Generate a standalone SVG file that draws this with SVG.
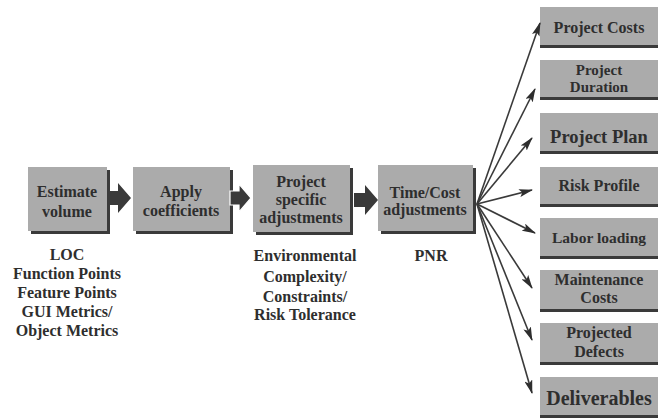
<svg xmlns="http://www.w3.org/2000/svg" width="660" height="420" viewBox="0 0 660 420">
<defs>
<style>
.box{fill:#ababab;}
.sh{fill:#3a3a3a;}
.t{font-family:"Liberation Serif","Times New Roman",serif;font-weight:bold;fill:#2e2e2e;text-anchor:middle;font-size:16px;}
.sm{font-size:15px;}
.md{font-size:15.5px;}
.big{font-size:18.5px;}
.xl{font-size:20px;}
.cap{font-family:"Liberation Serif","Times New Roman",serif;font-weight:bold;fill:#2e2e2e;text-anchor:middle;font-size:16px;}
.con{stroke:#3a3a3a;stroke-width:1.6;fill:none;marker-end:url(#ah);}
.blk{fill:#3a3a3a;}
</style>
<marker id="ah" viewBox="0 0 14 8" refX="13" refY="4" markerWidth="14" markerHeight="8" markerUnits="userSpaceOnUse" orient="auto">
<path d="M0,0 L14,4 L0,8 L3,4 Z" fill="#2e2e2e"/>
</marker>
</defs>
<rect width="660" height="420" fill="#ffffff"/>

<g id="estimate-volume">
<rect class="sh" x="31" y="170" width="79" height="64"/>
<rect class="box" x="28" y="167" width="79" height="64"/>
<text class="t" x="67" y="197">Estimate</text>
<text class="t" x="67" y="217">volume</text>
</g>
<g id="apply-coefficients">
<rect class="sh" x="136" y="170" width="97" height="64"/>
<rect class="box" x="133" y="167" width="97" height="64"/>
<text class="t" x="181" y="197">Apply</text>
<text class="t" x="181" y="216">coefficients</text>
</g>
<g id="project-specific-adjustments">
<rect class="sh" x="256" y="168" width="97" height="67"/>
<rect class="box" x="253" y="165" width="97" height="67"/>
<text class="t" x="301" y="187">Project</text>
<text class="t" x="301" y="205">specific</text>
<text class="t" x="301" y="223">adjustments</text>
</g>
<g id="time-cost-adjustments">
<rect class="sh" x="381" y="168" width="95" height="66"/>
<rect class="box" x="378" y="165" width="95" height="66"/>
<text class="t" x="425" y="198">Time/Cost</text>
<text class="t" x="425" y="215">adjustments</text>
</g>

<g id="project-costs">
<rect class="sh" x="540" y="45" width="118" height="3"/>
<rect class="box" x="540" y="7" width="118" height="38"/>
<text class="t" x="599" y="33">Project Costs</text>
</g>
<g id="project-duration">
<rect class="sh" x="540" y="97" width="118" height="3"/>
<rect class="box" x="540" y="60" width="118" height="37"/>
<text class="t sm" x="599" y="75">Project</text>
<text class="t sm" x="599" y="92">Duration</text>
</g>
<g id="project-plan">
<rect class="sh" x="540" y="151" width="118" height="3"/>
<rect class="box" x="540" y="113" width="118" height="38"/>
<text class="t big" x="599" y="143">Project Plan</text>
</g>
<g id="risk-profile">
<rect class="sh" x="540" y="204" width="118" height="3"/>
<rect class="box" x="540" y="167" width="118" height="37"/>
<text class="t" x="599" y="191">Risk Profile</text>
</g>
<g id="labor-loading">
<rect class="sh" x="540" y="256" width="118" height="3"/>
<rect class="box" x="540" y="218" width="118" height="38"/>
<text class="t md" x="599" y="243">Labor loading</text>
</g>
<g id="maintenance-costs">
<rect class="sh" x="540" y="309" width="118" height="3"/>
<rect class="box" x="540" y="270" width="118" height="39"/>
<text class="t" x="599" y="285">Maintenance</text>
<text class="t" x="599" y="303">Costs</text>
</g>
<g id="projected-defects">
<rect class="sh" x="540" y="362" width="118" height="3"/>
<rect class="box" x="540" y="323" width="118" height="39"/>
<text class="t" x="599" y="338">Projected</text>
<text class="t" x="599" y="357">Defects</text>
</g>
<g id="deliverables">
<rect class="sh" x="540" y="415" width="118" height="3"/>
<rect class="box" x="540" y="377" width="118" height="38"/>
<text class="t xl" x="599" y="405">Deliverables</text>
</g>

<g id="connectors">
<path class="blk" d="M108,191 L118,191 L118,183 L131,198 L118,213 L118,205 L108,205 Z"/>
<path class="blk" d="M230,191 L239,191 L239,184 L251,198 L239,212 L239,205 L230,205 Z" stroke="#ffffff" stroke-width="1.2"/>
<path class="blk" d="M354,193 L365,193 L365,185 L378,200 L365,215 L365,207 L354,207 Z"/>
<line class="con" x1="477" y1="204" x2="540" y2="23"/>
<line class="con" x1="477" y1="204" x2="535" y2="89"/>
<line class="con" x1="477" y1="204" x2="532" y2="138"/>
<line class="con" x1="477" y1="204" x2="532" y2="190"/>
<line class="con" x1="477" y1="204" x2="535" y2="233"/>
<line class="con" x1="477" y1="204" x2="532" y2="288"/>
<line class="con" x1="477" y1="204" x2="532" y2="340"/>
<line class="con" x1="477" y1="204" x2="532" y2="393"/>
</g>

<g id="labels">
<text class="cap" x="67" y="260">LOC</text>
<text class="cap" x="67" y="279">Function Points</text>
<text class="cap" x="67" y="298">Feature Points</text>
<text class="cap" x="67" y="317">GUI Metrics/</text>
<text class="cap" x="67" y="336">Object Metrics</text>
<text class="cap" x="305" y="261">Environmental</text>
<text class="cap" x="305" y="282">Complexity/</text>
<text class="cap" x="305" y="302">Constraints/</text>
<text class="cap" x="305" y="320">Risk Tolerance</text>
<text class="cap" x="431" y="261">PNR</text>
</g>
</svg>
